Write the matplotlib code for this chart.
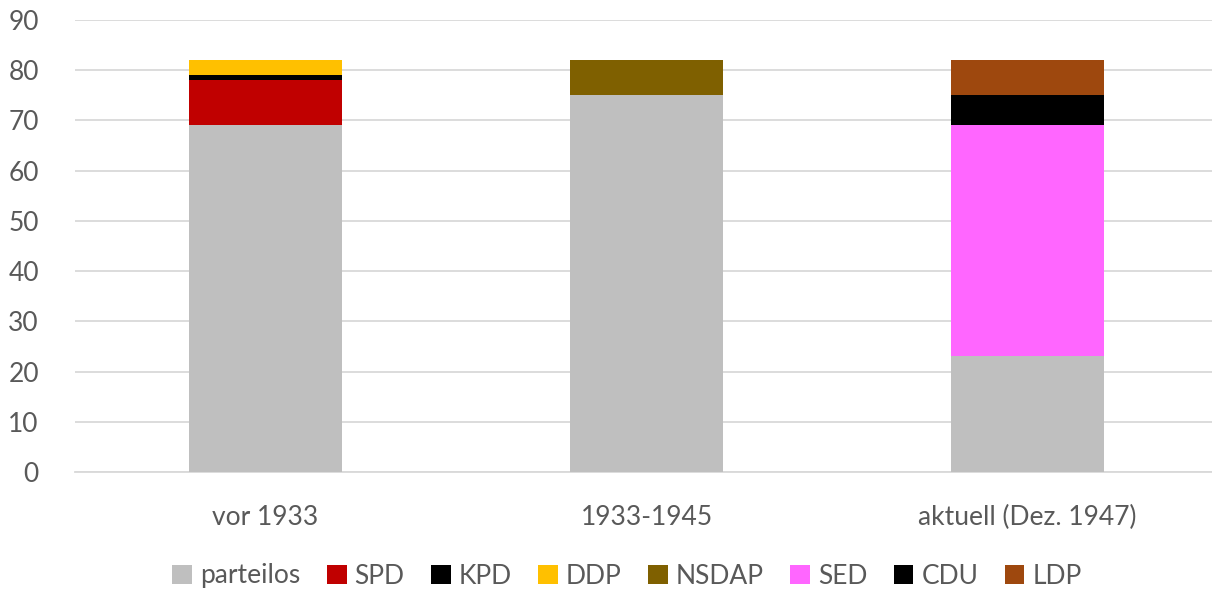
import matplotlib
matplotlib.use("Agg")
import matplotlib.pyplot as plt
import numpy as np

# Werte
categories = ["vor 1933", "1933-1945", "aktuell (Dez. 1947)"]
parties = ["parteilos", "SPD", "KPD", "DDP", "NSDAP", "SED", "CDU", "LDP"]
parteilos = [69, 75, 23]
spd = [9, 0, 0]
kpd = [1, 0, 0]
ddp = [3, 0, 0]
nsdap = [0, 7, 0]
sed = [0, 0, 46]
cdu = [0, 0, 6]
ldp = [0, 0, 7]

colors = ["#bfbfbf", "#c00000", "#000000", "#ffc000", "#7f6000", "#ff66ff", "#000000", "#9e480e"]
series = [parteilos, spd, kpd, ddp, nsdap, sed, cdu, ldp]

plt.rcParams["font.family"] = ["Lato", "DejaVu Sans"]

fig = plt.figure(figsize=(12.12, 5.9), dpi=100)
ax = fig.add_axes([75 / 1212, 1 - 472 / 590, 1143 / 1212, 452 / 590])

x = np.arange(len(categories))
bottom = np.zeros(len(categories))
for name, vals, col in zip(parties, series, colors):
    vals = np.array(vals, dtype=float)
    ax.bar(x, vals, width=0.4, bottom=bottom, color=col, label=name, zorder=3)
    bottom += vals

ax.set_ylim(0, 90)
ax.set_xlim(-0.5, 2.5)
ax.set_yticks(range(0, 91, 10))
ax.set_xticks(x)
ax.set_xticklabels(categories)
ax.grid(axis="y", color="#d9d9d9", linewidth=1.3, zorder=0)
ax.tick_params(axis="both", length=0, labelsize=19, labelcolor="#595959")
ax.tick_params(axis="y", pad=26)
ax.tick_params(axis="x", pad=24)
for s in ["top", "right", "left"]:
    ax.spines[s].set_visible(False)
ax.spines["bottom"].set_color("#d9d9d9")
ax.spines["bottom"].set_linewidth(1.3)

leg = fig.legend(loc="center", ncol=8, frameon=False, fontsize=19,
                 handlelength=0.75, handleheight=0.75, handletextpad=0.3, columnspacing=1.0)
leg.set_bbox_to_anchor((627 / 1212, 1 - 576 / 590), transform=fig.transFigure)
for t in leg.get_texts():
    t.set_color("#595959")

fig.savefig("out.png", dpi=100)
